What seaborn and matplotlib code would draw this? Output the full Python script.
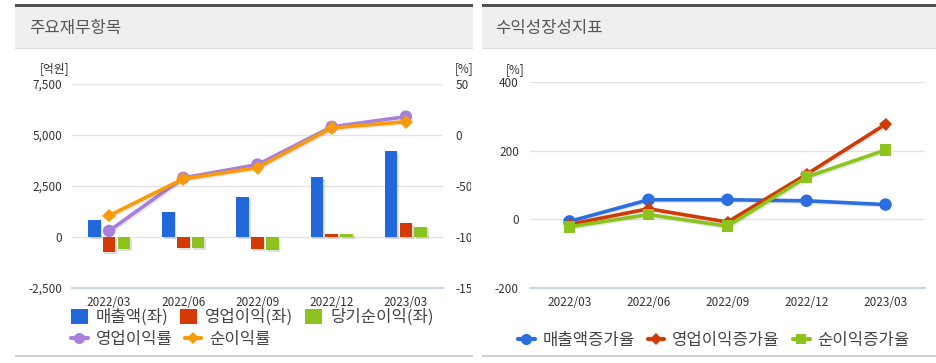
import numpy as np
import pandas as pd
import matplotlib
matplotlib.use("Agg")
import matplotlib.pyplot as plt
import matplotlib.patheffects as pe
from matplotlib.patches import Rectangle, Patch
from matplotlib.lines import Line2D
from matplotlib.transforms import Bbox, TransformedBbox
import seaborn as sns

# ---------------- data ----------------
periods = ["2022/03", "2022/06", "2022/09", "2022/12", "2023/03"]

revenue = [830, 1240, 1970, 2940, 4200]
op_income = [-730, -550, -610, 160, 690]
net_income = [-590, -550, -660, 150, 510]

op_margin = [-94, -42, -29, 8, 18]
net_margin = [-79, -43, -32, 7, 13]

rev_growth = [-6, 57, 57, 54, 43]
op_growth = [-15, 31, -8, 131, 277]
net_growth = [-22, 14, -20, 123, 202]

bar_names = ["매출액(좌)", "영업이익(좌)", "당기순이익(좌)"]
line_names = ["영업이익률", "순이익률"]
growth_names = ["매출액증가율", "영업이익증가율", "순이익증가율"]

left_yticks = [-2500, 0, 2500, 5000, 7500]
left_yticklabels = ["-2,500", "0", "2,500", "5,000", "7,500"]
pct_ticks = [-150, -100, -50, 0, 50]
growth_ticks = [-200, 0, 200, 400]

bar_colors = ["#2169db", "#d43a06", "#8cc31e"]
line_colors = ["#a77fdc", "#fb9a08"]
growth_colors = ["#2a6ee0", "#d03a05", "#8cc31e"]

# ---------------- style ----------------
sns.set_theme(style="white")
plt.rcParams["font.family"] = ["Noto Sans CJK KR", "DejaVu Sans"]

W, H = 936, 363
fig = plt.figure(figsize=(W / 100, H / 100), dpi=100)
fig.patch.set_facecolor("white")


def fx(px):
    return px / W


def fy(py):
    return 1 - py / H


TICK_COLOR = "#333333"
AXIS_COLOR = "#c6d4e4"
GRID_COLOR = "#e4e4e4"
LEG_FS = 12

# ---------------- panel frames ----------------
for x0, x1, title, tpad in [(15, 473, "주요재무항목", 14), (482, 936, "수익성장성지표", 13)]:
    w = fx(x1 - x0)
    fig.patches.append(Rectangle((fx(x0), fy(48)), w, 41 / H, transform=fig.transFigure,
                                 facecolor="#efefef", edgecolor="none"))
    fig.patches.append(Rectangle((fx(x0), fy(7)), w, 3 / H, transform=fig.transFigure,
                                 facecolor="#505050", edgecolor="none"))
    fig.patches.append(Rectangle((fx(x0), fy(49)), w, 1 / H, transform=fig.transFigure,
                                 facecolor="#dadada", edgecolor="none"))
    fig.patches.append(Rectangle((fx(x0), fy(357)), w, 2 / H, transform=fig.transFigure,
                                 facecolor="#cfcfcf", edgecolor="none"))
    fig.text(fx(x0 + tpad), fy(28), title, fontsize=12, color="#555555",
             ha="left", va="center")


def style_axis(ax):
    for s in ["left", "right", "top"]:
        ax.spines[s].set_visible(False)
    ax.spines["bottom"].set_color(AXIS_COLOR)
    ax.spines["bottom"].set_linewidth(1.5)
    ax.set_xlim(-0.5, len(periods) - 0.5)
    ax.set_xticks(range(len(periods)))
    ax.set_xticklabels(periods)
    ax.set_xticks(np.arange(-0.5, len(periods), 1.0), minor=True)
    ax.tick_params(axis="x", which="major", length=0, pad=5.5, labelsize=8.5,
                   labelcolor=TICK_COLOR)
    ax.tick_params(axis="x", which="minor", length=5, width=1.2, color=AXIS_COLOR,
                   direction="out")
    ax.yaxis.grid(True, color=GRID_COLOR, lw=1)
    ax.xaxis.grid(False)
    ax.set_axisbelow(True)
    ax.set_xlabel("")
    ax.set_ylabel("")


shadow_line = [pe.SimpleLineShadow(offset=(1.0, -1.0), alpha=0.1), pe.Normal()]

# ---------------- left chart ----------------
ax1 = fig.add_axes([fx(72), fy(288), fx(443 - 72), (288 - 84) / H])
df_bars = pd.DataFrame({
    "period": periods * 3,
    "item": np.repeat(bar_names, len(periods)),
    "value": revenue + op_income + net_income,
})
sns.barplot(data=df_bars, x="period", y="value", hue="item", order=periods,
            hue_order=bar_names, palette=bar_colors, saturation=1, width=0.6,
            gap=0.15, errorbar=None, legend=False, linewidth=0, ax=ax1)
for p in ax1.patches:
    p.set_path_effects([pe.SimplePatchShadow(offset=(1.2, -1.2), shadow_rgbFace="black",
                                             alpha=0.13), pe.Normal()])
style_axis(ax1)
ax1.set_ylim(-2500, 7500)
ax1.set_yticks(left_yticks)
ax1.set_yticklabels(left_yticklabels)
ax1.tick_params(axis="y", length=0, pad=7, labelsize=8.5, labelcolor=TICK_COLOR)

ax1b = ax1.twinx()
xpos = np.arange(len(periods))
for vals, col, mk, ms in [(op_margin, line_colors[0], "o", 9), (net_margin, line_colors[1], "D", 7)]:
    sns.lineplot(x=xpos, y=vals, ax=ax1b, color=col, marker=mk, markersize=ms,
                 markeredgewidth=0, lw=2.6, path_effects=shadow_line)
ax1b.set_ylim(-150, 50)
ax1b.set_yticks(pct_ticks)
ax1b.set_yticklabels([str(v) for v in pct_ticks])
ax1b.tick_params(axis="y", length=0, pad=9, labelsize=8.5, labelcolor=TICK_COLOR)
for s in ax1b.spines.values():
    s.set_visible(False)
ax1b.grid(False)
ax1b.set_ylabel("")
clip = TransformedBbox(Bbox([[0, 0], [471 / W, 1]]), fig.transFigure)
for lab in ax1b.get_yticklabels():
    lab.set_clip_on(True)
    lab.set_clip_box(clip)

fig.text(fx(55), fy(69), "[억원]", ha="center", va="center", fontsize=8.5, color=TICK_COLOR)
fig.text(fx(455), fy(69), "[%]", ha="left", va="center", fontsize=8.5, color=TICK_COLOR)

# left legends
h1 = [Patch(facecolor=c, edgecolor="none") for c in bar_colors]
leg1 = fig.legend(h1, bar_names, loc="upper left", bbox_to_anchor=(fx(71), fy(309)),
                  ncol=3, frameon=False, fontsize=LEG_FS, handlelength=1.0, handleheight=1.0,
                  handletextpad=0.5, columnspacing=0.7, borderpad=0, borderaxespad=0,
                  labelcolor="#444444")
h2 = [Line2D([], [], color=line_colors[0], lw=3, marker="o", ms=8, markeredgewidth=0),
      Line2D([], [], color=line_colors[1], lw=3, marker="D", ms=6, markeredgewidth=0)]
leg2 = fig.legend(h2, line_names, loc="upper left", bbox_to_anchor=(fx(71), fy(331)),
                  ncol=2, frameon=False, fontsize=LEG_FS, handlelength=1.0,
                  handletextpad=0.5, columnspacing=0.7, borderpad=0, borderaxespad=0,
                  labelcolor="#444444")

# ---------------- right chart ----------------
ax2 = fig.add_axes([fx(530), fy(288), fx(925 - 530), (288 - 82) / H])
for vals, col, mk, ms in [(rev_growth, growth_colors[0], "o", 9),
                          (op_growth, growth_colors[1], "D", 6.5),
                          (net_growth, growth_colors[2], "s", 8.5)]:
    sns.lineplot(x=xpos, y=vals, ax=ax2, color=col, marker=mk, markersize=ms,
                 markeredgewidth=0, lw=2.6, path_effects=shadow_line)
style_axis(ax2)
ax2.set_ylim(-200, 400)
ax2.set_yticks(growth_ticks)
ax2.set_yticklabels([str(v) for v in growth_ticks])
ax2.tick_params(axis="y", length=0, pad=8, labelsize=8.5, labelcolor=TICK_COLOR)

fig.text(fx(515), fy(70), "[%]", ha="center", va="center", fontsize=8.5, color=TICK_COLOR)

h3 = [Line2D([], [], color=growth_colors[0], lw=3, marker="o", ms=8, markeredgewidth=0),
      Line2D([], [], color=growth_colors[1], lw=3, marker="D", ms=6, markeredgewidth=0),
      Line2D([], [], color=growth_colors[2], lw=3, marker="s", ms=7, markeredgewidth=0)]
leg3 = fig.legend(h3, growth_names, loc="upper left", bbox_to_anchor=(fx(518), fy(332)),
                  ncol=3, frameon=False, fontsize=LEG_FS, handlelength=1.0,
                  handletextpad=0.45, columnspacing=0.8, borderpad=0, borderaxespad=0,
                  labelcolor="#444444")

fig.savefig("out.png", dpi=100, facecolor="white")
